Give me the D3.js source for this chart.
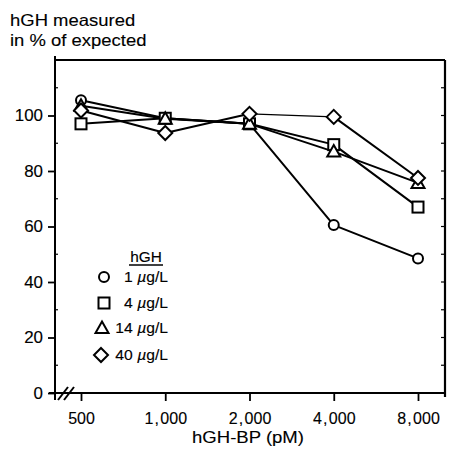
<!DOCTYPE html>
<html><head><meta charset="utf-8">
<script src="https://cdn.jsdelivr.net/npm/d3@7"></script>
<style>body{margin:0;background:#fff}svg{display:block}text{font-family:"Liberation Sans",Arial,Helvetica,sans-serif;fill:#000;stroke:#000;stroke-width:0.12px}</style>
</head><body><svg id="c" width="449" height="458"></svg>
<script>
const concentrations = [500, 1000, 2000, 4000, 8000];
const xTickLabels = ["500", "1,000", "2,000", "4,000", "8,000"];
const yTicks = [0, 20, 40, 60, 80, 100];
const seriesNames = ["1 \u00b5g/L", "4 \u00b5g/L", "14 \u00b5g/L", "40 \u00b5g/L"];
const seriesSymbols = ["circle", "square", "triangle", "diamond"];
const circle1 = [105.5, 99, 97, 60.5, 48.5];
const square4 = [97, 99, 97, 89.5, 67];
const triangle14 = [103.5, 98.8, 97, 87, 75.7];
const diamond40 = [101.8, 93.7, 100.6, 99.5, 77.5];
const seriesValues = [circle1, square4, triangle14, diamond40];

const svg = d3.select("#c");
const ink = "#000";
const x = d3.scaleLog().base(2).domain([500, 8000]).range([81, 418]);
const y = d3.scaleLinear().domain([0, 120]).range([393, 60]);
const L = 55, R = 445, T = 60, B = 393;

function addText(px, py, str, size, sx, anchor) {
  const g = svg.append("g").attr("transform", `translate(${px},${py}) scale(${sx},1)`);
  return g.append("text").attr("text-anchor", anchor || "start").style("font-size", size + "px").text(str);
}

// frame
svg.append("line").attr("x1", L).attr("x2", R).attr("y1", T).attr("y2", T).attr("stroke", ink).attr("stroke-width", 1.8);
svg.append("line").attr("x1", R).attr("x2", R).attr("y1", T).attr("y2", B + 4).attr("stroke", ink).attr("stroke-width", 2.2);
svg.append("line").attr("x1", L).attr("x2", L).attr("y1", T - 4).attr("y2", B + 7).attr("stroke", ink).attr("stroke-width", 2);
svg.append("line").attr("x1", L - 6).attr("x2", R).attr("y1", B).attr("y2", B).attr("stroke", ink).attr("stroke-width", 2);

// y axis
const yAxis = d3.axisLeft(y).tickValues(yTicks).tickSize(7).tickPadding(5);
const gy = svg.append("g").attr("transform", `translate(${L},0)`).call(yAxis);
gy.select(".domain").remove();
gy.selectAll("line").attr("stroke", ink).attr("stroke-width", 1.8);
gy.selectAll("text").style("font-size", "16px").attr("fill", ink)
  .attr("x", -12 / 1.06).attr("transform", "scale(1.06,1)");
// minor inside ticks on left
svg.append("g").selectAll("line").data(d3.range(10, 120, 20)).join("line")
  .attr("x1", L).attr("x2", L + 3).attr("y1", d => y(d)).attr("y2", d => y(d)).attr("stroke", ink).attr("stroke-width", 1.2);
// right inside ticks
svg.append("g").selectAll("line").data(d3.range(10, 120, 10)).join("line")
  .attr("x1", R - 4).attr("x2", R).attr("y1", d => y(d)).attr("y2", d => y(d)).attr("stroke", ink).attr("stroke-width", 1.2);

// x axis
const xAxis = d3.axisBottom(x).tickValues(concentrations).tickFormat("").tickSize(8);
const gx = svg.append("g").attr("transform", `translate(0,${B})`).call(xAxis);
gx.select(".domain").remove();
gx.selectAll("line").attr("stroke", ink).attr("stroke-width", 1.8);
gx.selectAll(".tick").each(function (d, i) {
  const parts = xTickLabels[i].split(",");
  const t = d3.select(this).append("text").attr("y", 31).attr("text-anchor", "middle")
    .style("font-size", "16px").attr("fill", ink);
  t.append("tspan").text(parts[0]);
  if (parts.length > 1) {
    t.append("tspan").attr("dx", 1).text(",");
    t.append("tspan").attr("dx", 1.5).text(parts[1]);
  }
});

// axis break
[0, 6].forEach(o => {
  svg.append("line").attr("x1", 58 + o).attr("y1", B + 7).attr("x2", 68 + o).attr("y2", B - 6)
    .attr("stroke", ink).attr("stroke-width", 2);
});

// titles
addText(10, 26, "hGH measured", 16.5, 1.12);
addText(10, 46, "in % of expected", 16.5, 1.12);
addText(248, 443, "hGH-BP (pM)", 16, 1.16, "middle");

// symbol drawing
function drawSymbol(g, type, cx, cy) {
  let p;
  if (type === "circle") p = g.append("circle").attr("cx", cx).attr("cy", cy).attr("r", 5);
  else if (type === "square") p = g.append("rect").attr("x", cx - 5.5).attr("y", cy - 5.5).attr("width", 11).attr("height", 11);
  else if (type === "triangle") p = g.append("path").attr("d", `M${cx},${cy - 6.5}L${cx + 6.5},${cy + 5}L${cx - 6.5},${cy + 5}Z`);
  else p = g.append("path").attr("d", `M${cx},${cy - 7}L${cx + 7},${cy}L${cx},${cy + 7}L${cx - 7},${cy}Z`);
  p.attr("fill", "#fff").attr("stroke", ink).attr("stroke-width", 2);
}

// lines (segment-wise; the diamond 2,000 -> 4,000 segment is drawn thin in the original)
const thinSeries = 3, thinIndex = 2;
const gl = svg.append("g");
seriesValues.forEach((vals, s) => {
  for (let i = 0; i < vals.length - 1; i++) {
    gl.append("line")
      .attr("x1", x(concentrations[i])).attr("y1", y(vals[i]))
      .attr("x2", x(concentrations[i + 1])).attr("y2", y(vals[i + 1]))
      .attr("stroke", ink).attr("stroke-linecap", "round")
      .attr("stroke-width", (s === thinSeries && i === thinIndex) ? 1.2 : 2);
  }
});
const gm = svg.append("g");
seriesValues.forEach((vals, s) => {
  vals.forEach((v, i) => drawSymbol(gm, seriesSymbols[s], x(concentrations[i]), y(v)));
});

// legend
addText(146, 262, "hGH", 14, 1.1, "middle");
svg.append("line").attr("x1", 129).attr("x2", 163).attr("y1", 265).attr("y2", 265).attr("stroke", ink).attr("stroke-width", 1.3);
const legY = [277, 303, 328, 355];
const legX = [104, 104, 102, 101];
seriesNames.forEach((n, i) => {
  drawSymbol(svg, seriesSymbols[i], legX[i], legY[i]);
  const t = addText(168, legY[i] + 5, "", 14, 1.12, "end");
  const parts = n.split("\u00b5");
  t.append("tspan").text(parts[0]);
  t.append("tspan").style("font-style", "italic").text("\u00b5");
  t.append("tspan").text(parts[1]);
});
</script></body></html>
